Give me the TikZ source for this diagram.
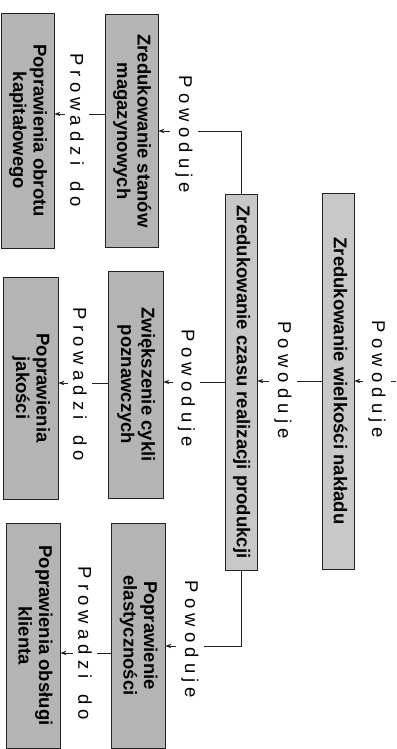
\documentclass[tikz,border=0pt]{standalone}
\usepackage{fontspec}
\setmainfont{Liberation Sans}
\usepackage{graphicx}
\usetikzlibrary{arrows.meta}

\definecolor{boxlight}{RGB}{200,200,200}
\definecolor{boxdark}{RGB}{180,180,180}
\definecolor{inkline}{RGB}{35,35,35}

% box caption, set sideways (reads top to bottom)
\newcommand{\sidetext}[1]{\rotatebox{-90}{\begin{tabular}{@{}c@{}}#1\end{tabular}}}
% connector caption, set sideways
\newcommand{\sidetag}[1]{\rotatebox{-90}{#1}}

\tikzset{
  stage/.style={draw=inkline, line width=0.8pt, inner sep=0pt,
    font=\bfseries\fontsize{18.5}{20.5}\selectfont},
  link/.style={draw=inkline, line width=0.9pt,
    -{Stealth[length=6pt,width=4.5pt]}},
  tag/.style={fill=white, inner xsep=5pt, inner ysep=0pt,
    font=\fontsize{18.5}{20}\selectfont},
}

\begin{document}
\begin{tikzpicture}[x=1pt,y=-1pt]
\useasboundingbox (0,0) rectangle (396,749);

% first column
\node[stage, fill=boxlight, minimum width=32pt, minimum height=376pt] (b1) at (338,381)
  {\sidetext{Zredukowanie wielkości nakładu}};
\node[stage, fill=boxlight, minimum width=32pt, minimum height=376pt] (b2) at (241,382)
  {\sidetext{Zredukowanie czasu realizacji produkcji}};

% second column
\node[stage, fill=boxdark, minimum width=53pt, minimum height=233pt] (s1) at (131.5,131)
  {\sidetext{Zredukowanie stanów\\magazynowych}};
\node[stage, fill=boxdark, minimum width=55pt, minimum height=227pt] (s2) at (135.5,384.5)
  {\sidetext{Zwiększenie cykli\\poznawczych}};
\node[stage, fill=boxdark, minimum width=54pt, minimum height=225pt] (s3) at (138,635.5)
  {\sidetext{Poprawienie\\elastyczności}};

% third column
\node[stage, fill=boxdark, minimum width=53pt, minimum height=235pt] (t1) at (27.5,130.5)
  {\sidetext{Poprawienia obrotu\\kapitałowego}};
\node[stage, fill=boxdark, minimum width=55pt, minimum height=222pt] (t2) at (30.5,388)
  {\sidetext{Poprawienia\\jakości}};
\node[stage, fill=boxdark, minimum width=54pt, minimum height=225pt] (t3) at (33,635.5)
  {\sidetext{Poprawienia obsługi\\klienta}};

% connectors
\coordinate (src) at (396,381);
\coordinate (k3) at (242,646);
\draw[link] (src) -- (b1.east);
\draw[link] (b1.west) -- (b1.west -| b2.east);
\draw[link] (b2.north) |- (s1.east);
\draw[link] (b2.west) -- (b2.west -| s2.east);
\draw[link] (b2.south) -- (b2.south |- k3) -- (k3 -| s3.east);
\draw[link] (s1.west |- 0,114) -- (t1.east |- 0,114);
\draw[link] (s2.west |- 0,383) -- (t2.east |- 0,383);
\draw[link] (s3.west |- 0,653) -- (t3.east |- 0,653);

% connector captions
\node[tag] (c0) at (377,379.5) {\sidetag{P o w o d u j e}};
\node[tag] (c1) at (283,380) {\sidetag{P o w o d u j e}};
\node[tag] (c2) at (184,134.5) {\sidetag{P o w o d u j e}};
\node[tag] (c3) at (186.5,388.5) {\sidetag{P o w o d u j e}};
\node[tag] (c4) at (190,639.5) {\sidetag{P o w o d u j e}};
\node[tag] (p1) at (77,130) {\sidetag{P r o w a d z i\hspace{0.85em}d o}};
\node[tag] (p2) at (80,384.5) {\sidetag{P r o w a d z i\hspace{0.85em}d o}};
\node[tag] (p3) at (85,643.5) {\sidetag{P r o w a d z i\hspace{0.85em}d o}};
\end{tikzpicture}
\end{document}
